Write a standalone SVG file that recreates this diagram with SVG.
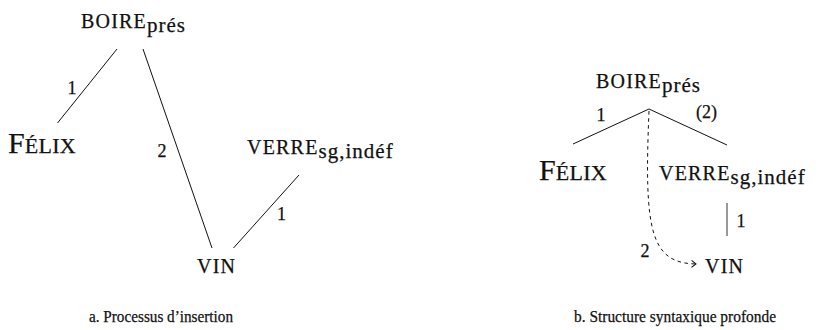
<svg xmlns="http://www.w3.org/2000/svg" width="836" height="330" viewBox="0 0 836 330" font-family="'Liberation Serif', 'Times New Roman', serif">
<defs>
<style>
text, tspan{font-family:'Liberation Serif', 'Times New Roman', serif;fill:#111;stroke:#111;stroke-width:0.25px}
.sc{font-size:20px;letter-spacing:1.2px}
.big{font-size:30px}
.scb{font-size:22px;letter-spacing:0.3px}
.sub{font-size:21px;letter-spacing:1px}
.lbl{font-size:18px;text-anchor:middle}
.cap{font-size:17px;text-anchor:middle}
.edge{stroke:#111;stroke-width:1;fill:none}
.dash{stroke:#111;stroke-width:1;fill:none;stroke-dasharray:3.5 3.5}
.gray{stroke:#777;stroke-width:1.5;fill:none}
</style>
<marker id="chev" viewBox="-6 -5 8 10" markerWidth="8" markerHeight="10" refX="0" refY="0" orient="auto" markerUnits="userSpaceOnUse">
<path d="M-4.5,-3.5 L0,0 L-4.5,3.5" stroke="#111" stroke-width="1" fill="none"/>
</marker>
</defs>

<g id="connectors">
<line class="edge" x1="117" y1="49" x2="57.5" y2="123"/>
<line class="edge" x1="143" y1="49" x2="212" y2="248"/>
<line class="edge" x1="299" y1="175" x2="233.5" y2="248"/>
<polyline class="edge" points="573,144 649,109 727,145"/>
<line class="gray" x1="727" y1="203" x2="727" y2="236"/>
<path class="dash" d="M649,111 C644,230 650,263 696,264" marker-end="url(#chev)"/>
<text class="lbl" x="72" y="94">1</text>
<text class="lbl" x="162" y="157">2</text>
<text class="lbl" x="281.5" y="220">1</text>
<text class="lbl" x="601" y="121">1</text>
<text class="lbl" x="706.5" y="118">(2)</text>
<text class="lbl" x="741" y="227">1</text>
<text class="lbl" x="645" y="257">2</text>
</g>

<g id="a-boire"><text x="81" y="28"><tspan class="sc">BOIRE</tspan><tspan class="sub" dy="4">prés</tspan></text></g>
<g id="a-felix"><text x="8" y="153"><tspan class="big">F</tspan><tspan class="scb">ÉLIX</tspan></text></g>
<g id="a-verre"><text x="247" y="154"><tspan class="sc">VERRE</tspan><tspan class="sub" dy="4">sg,indéf</tspan></text></g>
<g id="a-vin"><text x="197" y="273" class="sc">VIN</text></g>

<g id="b-boire"><text x="596" y="88"><tspan class="sc">BOIRE</tspan><tspan class="sub" dy="4">prés</tspan></text></g>
<g id="b-felix"><text x="539" y="180"><tspan class="big">F</tspan><tspan class="scb">ÉLIX</tspan></text></g>
<g id="b-verre"><text x="659" y="180"><tspan class="sc">VERRE</tspan><tspan class="sub" dy="4">sg,indéf</tspan></text></g>
<g id="b-vin"><text x="705" y="273" class="sc">VIN</text></g>

<g id="captions">
<text class="cap" x="161" y="322" textLength="144" lengthAdjust="spacingAndGlyphs">a. Processus d’insertion</text>
<text class="cap" x="675" y="322" textLength="202" lengthAdjust="spacingAndGlyphs">b. Structure syntaxique profonde</text>
</g>
</svg>
